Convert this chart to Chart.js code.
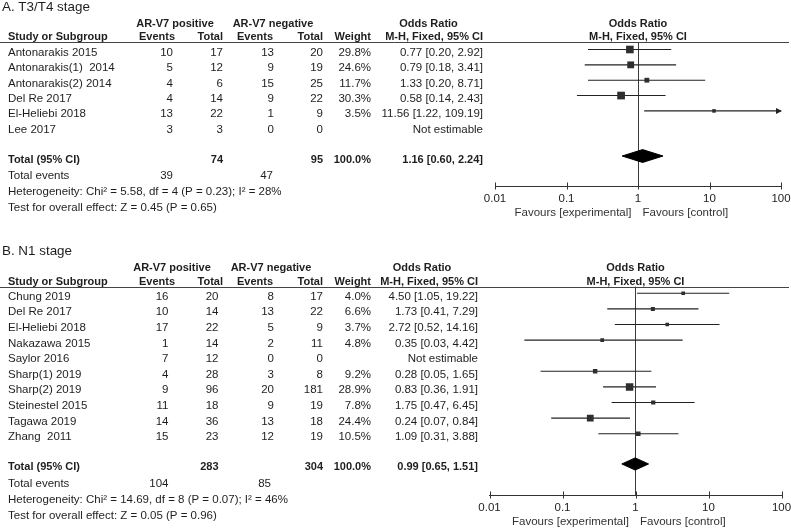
<!DOCTYPE html>
<html><head><meta charset="utf-8">
<script src="https://cdn.jsdelivr.net/npm/chart.js@4.4.1/dist/chart.umd.min.js"></script>
<style>
html,body{margin:0;padding:0;background:#fff;}
#wrap{position:relative;width:791px;height:528px;overflow:hidden;background:#fff;}
canvas{position:absolute;left:0;}
</style></head><body>
<div id="wrap">
<canvas id="cA" width="791" height="245" style="top:0;width:791px;height:245px"></canvas>
<canvas id="cB" width="791" height="283" style="top:245px;width:791px;height:283px"></canvas>
</div>
<script>
// ---------- shared axis ----------
const tickVals = [0.01, 0.1, 1, 10, 100];
const tickLabels = ['0.01', '0.1', '1', '10', '100'];

// ---------- Panel A: T3/T4 stage ----------
const titleA = 'A. T3/T4 stage';
const studiesA = ['Antonarakis 2015', 'Antonarakis(1)  2014', 'Antonarakis(2) 2014', 'Del Re 2017', 'El-Heliebi 2018', 'Lee 2017'];
const posEventsA = [10, 5, 4, 4, 13, 3];
const posTotalA = [17, 12, 6, 14, 22, 3];
const negEventsA = [13, 9, 15, 9, 1, 0];
const negTotalA = [20, 19, 25, 22, 9, 0];
const weightA = [29.8, 24.6, 11.7, 30.3, 3.5, null];
const orA = [0.77, 0.79, 1.33, 0.58, 11.56, null];
const loA = [0.20, 0.18, 0.20, 0.14, 1.22, null];
const hiA = [2.92, 3.41, 8.71, 2.43, 109.19, null];
const totalsA = [74, 95];
const totalOrA = [1.16, 0.60, 2.24];
const totalEventsA = [39, 47];
const hetA = 'Heterogeneity: Chi\u00B2 = 5.58, df = 4 (P = 0.23); I\u00B2 = 28%';
const effectA = 'Test for overall effect: Z = 0.45 (P = 0.65)';

// ---------- Panel B: N1 stage ----------
const titleB = 'B. N1 stage';
const studiesB = ['Chung 2019', 'Del Re 2017', 'El-Heliebi 2018', 'Nakazawa 2015', 'Saylor 2016', 'Sharp(1) 2019', 'Sharp(2) 2019', 'Steinestel 2015', 'Tagawa 2019', 'Zhang  2011'];
const posEventsB = [16, 10, 17, 1, 7, 4, 9, 11, 14, 15];
const posTotalB = [20, 14, 22, 14, 12, 28, 96, 18, 36, 23];
const negEventsB = [8, 13, 5, 2, 0, 3, 20, 9, 13, 12];
const negTotalB = [17, 22, 9, 11, 0, 8, 181, 19, 18, 19];
const weightB = [4.0, 6.6, 3.7, 4.8, null, 9.2, 28.9, 7.8, 24.4, 10.5];
const orB = [4.50, 1.73, 2.72, 0.35, null, 0.28, 0.83, 1.75, 0.24, 1.09];
const loB = [1.05, 0.41, 0.52, 0.03, null, 0.05, 0.36, 0.47, 0.07, 0.31];
const hiB = [19.22, 7.29, 14.16, 4.42, null, 1.65, 1.91, 6.45, 0.84, 3.88];
const totalsB = [283, 304];
const totalOrB = [0.99, 0.65, 1.51];
const totalEventsB = [104, 85];
const hetB = 'Heterogeneity: Chi\u00B2 = 14.69, df = 8 (P = 0.07); I\u00B2 = 46%';
const effectB = 'Test for overall effect: Z = 0.05 (P = 0.96)';

// ---------- rendering ----------
const FAM = "'Liberation Sans', Arial, Helvetica, sans-serif";
const REG = '11.5px ' + FAM;
const BOLD = 'bold 11px ' + FAM;
const TITLE = '13.4px ' + FAM;
const TXT = '#1e1e1e';
const AXH = 30;

function ciText(o, l, h) { return o.toFixed(2) + ' [' + l.toFixed(2) + ', ' + h.toFixed(2) + ']'; }
function sideFor(w) { return 3 + 0.155 * w; }

function buildPanel(canvasId, d, lay) {
  const n = d.studies.length;
  const totIdx = n + 0.94;
  const ymin = -(lay.row0 - lay.top) / lay.step;
  const ymax = ymin + (lay.bottom - lay.top) / lay.step;
  const datasets = [];
  d.or.forEach((o, i) => {
    if (o == null) return;
    datasets.push({
      type: 'line',
      data: [{ x: d.lo[i], y: i }, { x: Math.min(d.hi[i], 100), y: i }],
      borderColor: '#222', borderWidth: 1.1, pointRadius: 0, fill: false, order: 2
    });
  });
  const pts = [];
  d.or.forEach((o, i) => { if (o != null) pts.push({ x: o, y: i, w: d.weight[i] }); });
  datasets.push({
    type: 'scatter', data: pts, pointStyle: 'rect',
    pointRadius: c => (c.raw ? sideFor(c.raw.w) / Math.SQRT2 : 3),
    backgroundColor: '#2e2e2e', borderWidth: 0, order: 1
  });
  const [to, tl, th] = d.totalOr;
  const dh = lay.dh;
  datasets.push({
    type: 'line',
    data: [{ x: tl, y: totIdx }, { x: to, y: totIdx - dh }, { x: th, y: totIdx }, { x: to, y: totIdx + dh }, { x: tl, y: totIdx }],
    borderColor: '#000', backgroundColor: '#000', borderWidth: 1, pointRadius: 0,
    fill: 'shape', tension: 0, order: 0
  });

  const c = lay.cols;
  const tablePlugin = {
    id: 'table',
    afterDraw(chart) {
      const ctx = chart.ctx, ca = chart.chartArea, ys = chart.scales.y, xs = chart.scales.x;
      const T = ca.top;
      ctx.save();
      function txt(s, x, y, align, font, col) {
        ctx.font = font; ctx.textAlign = align; ctx.textBaseline = 'alphabetic';
        ctx.fillStyle = col || TXT; ctx.fillText(s, x, y);
      }
      // header rule
      ctx.strokeStyle = '#444'; ctx.lineWidth = 1;
      const hy = Math.round(T) + 0.5;
      ctx.beginPath(); ctx.moveTo(0, hy); ctx.lineTo(789, hy); ctx.stroke();
      // title
      txt(d.title, 2, T - 31.5, 'left', TITLE);
      // header row 1
      txt('AR-V7 positive', c.h1pos, T - 15.5, 'center', BOLD);
      txt('AR-V7 negative', c.h1neg, T - 15.5, 'center', BOLD);
      txt('Odds Ratio', c.h1or, T - 15.5, 'center', BOLD);
      const x1 = xs.getPixelForValue(1);
      txt('Odds Ratio', x1, T - 15.5, 'center', BOLD);
      // header row 2
      txt('Study or Subgroup', 8, T - 2, 'left', BOLD);
      txt('Events', 175, T - 2, 'right', BOLD);
      txt('Total', 223, T - 2, 'right', BOLD);
      txt('Events', 273, T - 2, 'right', BOLD);
      txt('Total', 323, T - 2, 'right', BOLD);
      txt('Weight', 371, T - 2, 'right', BOLD);
      txt('M-H, Fixed, 95% CI', c.ci, T - 2, 'right', BOLD);
      txt('M-H, Fixed, 95% CI', x1, T - 2, 'center', BOLD);
      // study rows
      d.studies.forEach((s, i) => {
        const y = ys.getPixelForValue(i) + lay.textDy;
        txt(s, 8, y, 'left', REG);
        txt(String(d.posE[i]), c.pe, y, 'right', REG);
        txt(String(d.posT[i]), c.pt, y, 'right', REG);
        txt(String(d.negE[i]), c.ne, y, 'right', REG);
        txt(String(d.negT[i]), c.nt, y, 'right', REG);
        if (d.weight[i] != null) txt(d.weight[i].toFixed(1) + '%', c.w, y, 'right', REG);
        txt(d.or[i] != null ? ciText(d.or[i], d.lo[i], d.hi[i]) : 'Not estimable', c.ci, y, 'right', REG);
      });
      // total row
      const ty = ys.getPixelForValue(totIdx);
      const tby = ty + lay.textDy;
      txt('Total (95% CI)', 8, tby, 'left', BOLD);
      txt(String(d.totals[0]), c.pt, tby, 'right', BOLD);
      txt(String(d.totals[1]), c.nt, tby, 'right', BOLD);
      txt('100.0%', c.w, tby, 'right', BOLD);
      txt(ciText(to, tl, th), c.ci, tby, 'right', BOLD);
      // footer lines
      txt('Total events', 8, ty + 23.3, 'left', REG);
      txt(String(d.totEv[0]), c.pe, ty + 23.3, 'right', REG);
      txt(String(d.totEv[1]), c.teNeg, ty + 23.3, 'right', REG);
      txt(d.het, 8, ty + 38.6, 'left', REG);
      txt(d.effect, 8, ty + 54.6, 'left', REG);
      // favours
      txt('Favours [experimental]', x1 - 6.5, ca.bottom + 29.8, 'right', REG, '#333');
      txt('Favours [control]', x1 + 4.5, ca.bottom + 29.8, 'left', REG, '#333');
      // tick marks crossing the axis
      ctx.strokeStyle = '#333'; ctx.lineWidth = 1;
      tickVals.forEach(v => {
        const x = Math.round(xs.getPixelForValue(v)) + 0.5;
        ctx.beginPath(); ctx.moveTo(x, ca.bottom - 3.5); ctx.lineTo(x, ca.bottom + 3.5); ctx.stroke();
      });
      // arrows for CIs beyond the axis
      d.hi.forEach((h, i) => {
        if (h != null && h > 100) {
          const x = xs.getPixelForValue(100), y = ys.getPixelForValue(i);
          ctx.fillStyle = '#222';
          ctx.beginPath(); ctx.moveTo(x + 1, y); ctx.lineTo(x - 5, y - 3); ctx.lineTo(x - 5, y + 3); ctx.closePath(); ctx.fill();
        }
      });
      ctx.restore();
    }
  };

  const canvas = document.getElementById(canvasId);
  const H = canvas.height;
  return new Chart(canvas, {
    type: 'scatter',
    data: { datasets },
    options: {
      responsive: false, animation: false, events: [],
      layout: { padding: { left: lay.left, right: 791 - lay.right, top: lay.top, bottom: H - lay.bottom - AXH } },
      plugins: { legend: { display: false }, tooltip: { enabled: false } },
      scales: {
        x: {
          type: 'logarithmic', min: 0.01, max: 100, position: 'bottom',
          afterBuildTicks: s => { s.ticks = tickVals.map(v => ({ value: v })); },
          afterFit: s => { s.height = AXH; s.paddingLeft = 0; s.paddingRight = 0; },
          ticks: {
            autoSkip: false, maxRotation: 0, minRotation: 0, padding: lay.tickPad, color: TXT,
            font: { family: FAM, size: 11.5 },
            callback: (v, i) => tickLabels[i]
          },
          grid: {
            drawTicks: false, drawOnChartArea: true, lineWidth: 1,
            color: g => (g.tick && g.tick.value === 1) ? '#3a3a3a' : 'rgba(0,0,0,0)'
          },
          border: { display: true, color: '#333', width: 1 }
        },
        y: { type: 'linear', display: false, reverse: true, min: ymin, max: ymax }
      }
    },
    plugins: [tablePlugin]
  });
}

buildPanel('cA', {
  title: titleA, studies: studiesA, posE: posEventsA, posT: posTotalA, negE: negEventsA, negT: negTotalA,
  weight: weightA, or: orA, lo: loA, hi: hiA, totals: totalsA, totalOr: totalOrA, totEv: totalEventsA,
  het: hetA, effect: effectA
}, {
  left: 495, right: 781, top: 42, bottom: 186, row0: 49.5, step: 15.35, dh: 0.42, textDy: 6.5, tickPad: 6,
  cols: { pe: 173, pt: 223, ne: 274, nt: 323, w: 371, ci: 483, teNeg: 273, h1pos: 175, h1neg: 273, h1or: 428.5 }
});

buildPanel('cB', {
  title: titleB, studies: studiesB, posE: posEventsB, posT: posTotalB, negE: negEventsB, negT: negTotalB,
  weight: weightB, or: orB, lo: loB, hi: hiB, totals: totalsB, totalOr: totalOrB, totEv: totalEventsB,
  het: hetB, effect: effectB
}, {
  left: 489.5, right: 781.5, top: 41.5, bottom: 250, row0: 48.3, step: 15.6, dh: 0.39, textDy: 6.5, tickPad: 6,
  cols: { pe: 168.5, pt: 218.5, ne: 274, nt: 323, w: 371, ci: 478, teNeg: 271, h1pos: 172, h1neg: 271, h1or: 422 }
});
</script>
</body></html>
